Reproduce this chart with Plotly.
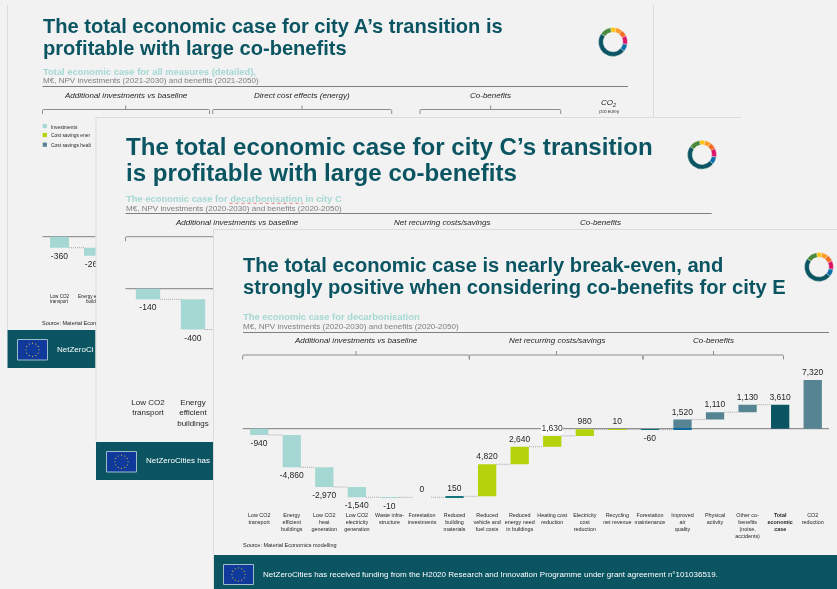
import math
import plotly.graph_objects as go

W, H = 837, 589
FONT = "Liberation Sans"
TEAL = "#0b5563"
MINT = "#a5d8d3"
LIME = "#b5d30d"
SLATE = "#568492"
GREY = "#7f7f7f"
BG = "#f2f2f2"
EDGE = "#dcdcdc"
INK = "#262626"

# ---------- data ----------
e_categories = ["Low CO2<br>transport", "Energy<br>efficient<br>buildings", "Low CO2<br>heat<br>generation",
                "Low CO2<br>electricity<br>generation", "Waste infra-<br>structure", "Forestation<br>investments",
                "Reduced<br>building<br>materials", "Reduced<br>vehicle and<br>fuel costs",
                "Reduced<br>energy need<br>in buildings", "Heating cost<br>reduction", "Electricity<br>cost<br>reduction",
                "Recycling<br>net revenue", "Forestation<br>maintenance", "Improved<br>air<br>quality",
                "Physical<br>activity", "Other co-<br>benefits<br>(noise,<br>accidents)",
                "<b>Total</b><br><b>economic</b><br><b>case</b>", "CO2<br>reduction"]
e_values = [-940, -4860, -2970, -1540, -10, 0, 150, 4820, 2640, 1630, 980, 10, -60, 1520, 1110, 1130, 3610, 7320]
e_from_zero = [False] * 16 + [True, True]
e_labels = ["-940", "-4,860", "-2,970", "-1,540", "-10", "0", "150", "4,820", "2,640", "1,630", "980", "10", "-60",
            "1,520", "1,110", "1,130", "3,610", "7,320"]
e_colors = [MINT] * 6 + ["#14757d"] + [LIME] * 5 + ["#0f6d7a"] + [SLATE] * 3 + [TEAL, SLATE]
a_values = [-360, -260]
a_labels = ["-360", "-260"]
c_values = [-140, -400]
c_labels = ["-140", "-400"]
c_categories = ["Low CO2<br>transport", "Energy<br>efficient<br>buildings"]
ring_values = [22, 26, 27, 35, 30, 175, 45]
ring_colors = ["#fcc30b", "#fd9d24", "#f36d25", "#dd1367", "#0a6fa8", TEAL, "#4b8a3c"]


def px(x):
    return x / W


def py(y):
    return 1 - y / H


shapes, annos = [], []


def rect(x0, y0, x1, y1, fill, line=None, lw=1, layer="below"):
    shapes.append(dict(type="rect", xref="paper", yref="paper", x0=px(x0), x1=px(x1), y0=py(y0), y1=py(y1),
                       fillcolor=fill, line=dict(color=line or fill, width=lw if line else 0), layer=layer))


def line(x0, y0, x1, y1, color=GREY, lw=1, dash="solid", layer="below"):
    shapes.append(dict(type="line", xref="paper", yref="paper", x0=px(x0), x1=px(x1), y0=py(y0), y1=py(y1),
                       line=dict(color=color, width=lw, dash=dash), layer=layer))


def text(x, y, s, size, color=INK, anchor="left"):
    annos.append(dict(xref="paper", yref="paper", x=px(x), y=py(y), text=s, showarrow=False, xanchor=anchor,
                      yanchor="middle", align=anchor, borderpad=0, borderwidth=0,
                      font=dict(family=FONT, size=size, color=color)))


def bracket(x0, x1, xc, y):
    d = f"M{px(x0)},{py(y+4.5)} L{px(x0)},{py(y+1)} Q{px(x0)},{py(y)} {px(x0+1)},{py(y)} "
    d += f"L{px(x1-1)},{py(y)} Q{px(x1)},{py(y)} {px(x1)},{py(y+1)} L{px(x1)},{py(y+4.5)} "
    d += f"M{px(xc)},{py(y)} L{px(xc)},{py(y-4)}"
    shapes.append(dict(type="path", xref="paper", yref="paper", path=d, line=dict(color="#8c8c8c", width=1),
                       layer="below"))


def flag(x0, y0, x1, y1):
    rect(x0, y0, x1, y1, "#0f3a9c", "#9fbccb", 1)
    cx, cy, r = (x0 + x1) / 2, (y0 + y1) / 2, 6.6
    for k in range(12):
        sx = cx + r * math.cos(k * math.pi / 6)
        sy = cy + r * math.sin(k * math.pi / 6)
        shapes.append(dict(type="circle", xref="paper", yref="paper", x0=px(sx - .6), x1=px(sx + .6),
                           y0=py(sy + .6), y1=py(sy - .6), fillcolor="#d9b93a", line=dict(width=0), layer="below"))


ITAL = 8.0
SUB = 9.4
SUB2 = 8.05
T_A, T_B, T_E = 20.1, 24.1, 20.15

# ---------- panel A (back) ----------
line(7.5, 5, 7.5, 330, EDGE)
line(653.5, 5, 653.5, 117, EDGE)
text(43, 26, "<b>The total economic case for city A’s transition is</b>", T_A, TEAL)
text(43, 47.8, "<b>profitable with large co-benefits</b>", T_A, TEAL)
text(43, 71, "<b>Total economic case for all measures (detailed),</b>", SUB, MINT)
text(43, 81, "M€, NPV investments (2021-2030) and benefits (2021-2050)", SUB2, GREY)
line(42.5, 86.5, 628, 86.5)
text(125.5, 95.5, "<i>Additional investments vs baseline</i>", ITAL, INK, "center")
text(302, 95.5, "<i>Direct cost effects (energy)</i>", ITAL, INK, "center")
text(490.6, 95.5, "<i>Co-benefits</i>", ITAL, INK, "center")
text(609, 103.5, "<i>CO<sub>2</sub></i>", 8, INK, "center")
text(609, 112, "<i>(100 EUR/t)</i>", 3.8, INK, "center")
bracket(42.5, 209.5, 125.7, 109.5)
bracket(212.7, 391.7, 302, 109.5)
bracket(420, 560.7, 490.7, 109.5)
for yy, c, lbl in [(126, MINT, "Investments"), (135, LIME, "Cost savings ener"), (144.7, SLATE, "Cost savings healt")]:
    rect(42.7, yy - 2.1, 46.9, yy + 2.1, c)
    text(50.8, yy + 1, lbl, 4.9)
line(42.5, 236.7, 95.5, 236.7)
text(59.5, 296, "Low CO2", 4.6, INK, "center")
text(59.5, 301, "transport", 4.6, INK, "center")
text(77.5, 296, "Energy e", 4.6)
text(85.5, 301, "build", 4.6)
text(42, 323, "Source: Material Econ", 5.5)
rect(7.5, 330, 95.5, 368, TEAL)
flag(17.5, 339.5, 47.5, 360)
text(57, 349.3, "NetZeroCi", 8, "#ffffff")

# ---------- panel B (middle) ----------
rect(96, 117.5, 837, 589, BG)
line(96, 117.5, 741, 117.5, EDGE)
line(96, 117.5, 96, 442, EDGE)
text(125.5, 146, "<b>The total economic case for city C’s transition</b>", T_B, TEAL)
text(125.5, 172, "<b>is profitable with large co-benefits</b>", T_B, TEAL)
text(125.5, 198, "<b>The economic case for decarbonisation in city C</b>", SUB, MINT)
line(229.5, 203.3, 303, 203.3, "#d9534f", .7, "dot")
text(125.5, 208, "M€, NPV investments (2020-2030) and benefits (2020-2050)", SUB2, GREY)
line(125.5, 213.5, 711.7, 213.5)
text(237.5, 222, "<i>Additional investments vs baseline</i>", ITAL, INK, "center")
text(441.6, 222, "<i>Net recurring costs/savings</i>", ITAL, INK, "center")
text(600, 222, "<i>Co-benefits</i>", ITAL, INK, "center")
bracket(125.5, 350, 237.5, 236.7)
line(125.5, 288.7, 213, 288.7)
rect(96, 442, 213.5, 480, TEAL)
flag(106.5, 451.5, 136.5, 472)
text(146, 461, "NetZeroCities has", 8, "#ffffff")

# ---------- panel E (front) ----------
rect(213.5, 229.5, 837, 589, BG)
line(213.5, 229.5, 837, 229.5, EDGE)
line(213.5, 229.5, 213.5, 589, EDGE)
text(242.5, 265, "<b>The total economic case is nearly break-even, and</b>", T_E, TEAL)
text(242.5, 287, "<b>strongly positive when considering co-benefits for city E</b>", T_E, TEAL)
text(243, 316, "<b>The economic case for decarbonisation</b>", SUB, MINT)
text(243, 326, "M€, NPV investments (2020-2030) and benefits (2020-2050)", SUB2, GREY)
line(243, 332.5, 829, 332.5)
text(355.7, 340.7, "<i>Additional investments vs baseline</i>", ITAL, INK, "center")
text(556.6, 340.7, "<i>Net recurring costs/savings</i>", ITAL, INK, "center")
text(713.6, 340.7, "<i>Co-benefits</i>", ITAL, INK, "center")
bracket(242.7, 469.3, 356, 355)
bracket(469.3, 643, 556.5, 355)
bracket(643, 783.5, 713.5, 355)
line(242.7, 428.7, 829, 428.7, "#7a7a7a", 1)
rect(541, 425, 563, 434, "#ffffff")
text(243, 544.7, "Source: Material Economics modelling", 5.5)
rect(214, 555, 837, 589, TEAL)
flag(223.5, 564.5, 253.5, 584.5)
text(263, 574, "NetZeroCities has received funding from the H2020 Research and Innovation Programme under grant agreement n°101036519.", 8.04, "#ffffff")

# ---------- traces ----------
fig = go.Figure()


def waterfall(values, labels, colors, bw, xa, ya, tsize, from_zero=None):
    ends, run = [], 0
    from_zero = from_zero or [False] * len(values)
    for v, z in zip(values, from_zero):
        run = v if z else run + v
        ends.append(run)
    bases = [e - v for e, v in zip(ends, values)]
    fig.add_trace(go.Bar(x=list(range(len(values))), y=values, base=bases, width=bw, text=labels,
                         textposition="outside", textangle=0, constraintext="none",
                         textfont=dict(family=FONT, size=tsize, color=INK),
                         marker=dict(color=colors, line=dict(width=0)), xaxis=xa, yaxis=ya, showlegend=False,
                         hoverinfo="skip", cliponaxis=xa != "x"))
    return ends


def connectors(ends, bw, xa, ya, last, xmax=None):
    xs, ys = [], []
    for i in range(last):
        xs += [i + bw / 2, i + 1 - bw / 2, None]
        ys += [ends[i], ends[i], None]
    if xmax is not None:
        xs += [last + bw / 2, xmax, None]
        ys += [ends[last], ends[last], None]
    fig.add_trace(go.Scatter(x=xs, y=ys, mode="lines", line=dict(color="#a6a6a6", width=1, dash="1px,1px"),
                             xaxis=xa, yaxis=ya, showlegend=False, hoverinfo="skip"))


# main chart (E)
BW_E = 0.562
ends_e = waterfall(e_values, e_labels, e_colors, BW_E, "x", "y", 8.5, e_from_zero)
connectors(ends_e, BW_E, "x", "y", 16)
# part of the air-quality bar that sits below zero
fig.add_trace(go.Bar(x=[13], y=[-ends_e[12]], base=[ends_e[12]], width=BW_E,
                     marker=dict(color="#0f6aa0", line=dict(width=0)), showlegend=False, hoverinfo="skip"))
# panel A
BW_A = 19 / 34
ends_a = waterfall(a_values, a_labels, [MINT, MINT], BW_A, "x2", "y2", 8.5)
connectors(ends_a, BW_A, "x2", "y2", 1)
# panel C
BW_C = 24.3 / 45
ends_c = waterfall(c_values, c_labels, [MINT, MINT], BW_C, "x3", "y3", 8.5)
connectors(ends_c, BW_C, "x3", "y3", 1, 1.45)

# logos
for cx, cy in [(613, 42), (702, 154.7), (819, 267)]:
    r = 14.5
    fig.add_trace(go.Pie(values=ring_values, sort=False, direction="clockwise", rotation=-10, hole=0.68,
                         marker=dict(colors=ring_colors, line=dict(color=BG, width=0.4)), textinfo="none",
                         showlegend=False, hoverinfo="skip",
                         domain=dict(x=[px(cx - r), px(cx + r)], y=[py(cy + r), py(cy - r)])))


def hidden(**kw):
    return dict(visible=True, showgrid=False, zeroline=False, showline=False, ticks="", showticklabels=False,
                fixedrange=True, **kw)


S_E = 0.00665
S_A = 0.0306
S_C = 0.0757
top_e, bot_e = 350, 511
top_a, bot_a = 230, 275
top_c, bot_c = 280, 396
fig.update_layout(
    width=W, height=H, autosize=False, margin=dict(l=0, r=0, t=0, b=0),
    paper_bgcolor=BG, plot_bgcolor="rgba(0,0,0,0)", barmode="overlay", showlegend=False,
    font=dict(family=FONT), shapes=shapes, annotations=annos,
    xaxis=dict(domain=[px(242.7), px(829)], range=[(242.7 - 259.2) / 32.56, (829 - 259.2) / 32.56], showgrid=False,
               zeroline=False, showline=False, ticks="", tickmode="array", tickvals=list(range(18)),
               ticktext=e_categories, tickangle=0, tickfont=dict(family=FONT, size=5.4, color=INK), anchor="y",
               fixedrange=True),
    yaxis=hidden(domain=[py(bot_e), py(top_e)], range=[-(bot_e - 428.7) / S_E, (428.7 - top_e) / S_E], anchor="x"),
    xaxis2=hidden(domain=[px(43), px(95.5)], range=[(43 - 59.5) / 34, (95.5 - 59.5) / 34], anchor="y2"),
    yaxis2=hidden(domain=[py(bot_a), py(top_a)], range=[-(bot_a - 236.7) / S_A, (236.7 - top_a) / S_A], anchor="x2"),
    xaxis3=dict(domain=[px(125.5), px(213)], range=[(125.5 - 148) / 45, (213 - 148) / 45], showgrid=False,
                zeroline=False, showline=False, ticks="", tickmode="array", tickvals=[0, 1], ticktext=c_categories,
                tickangle=0, tickfont=dict(family=FONT, size=8, color=INK), anchor="y3", fixedrange=True),
    yaxis3=hidden(domain=[py(bot_c), py(top_c)], range=[-(bot_c - 288.7) / S_C, (288.7 - top_c) / S_C], anchor="x3"),
)
fig.write_html("out.html", config=dict(displayModeBar=False),
               post_script="document.documentElement.style.background='%s';document.body.style.margin='0';"
                           "document.body.style.background='%s';document.body.style.filter='blur(0.35px)';" % (BG, BG))
